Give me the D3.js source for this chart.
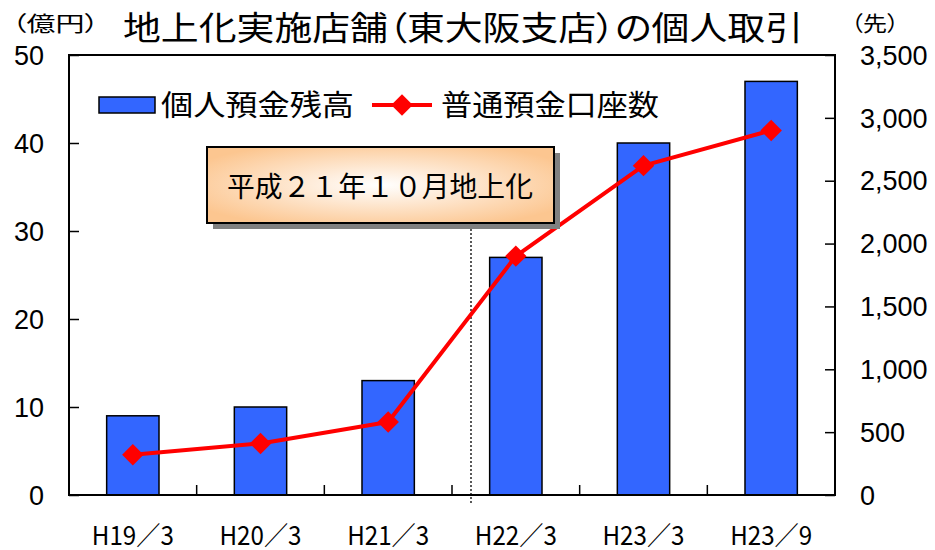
<!DOCTYPE html>
<html><head><meta charset="utf-8">
<script src="https://cdn.jsdelivr.net/npm/d3@7"></script>
<style>body{margin:0;background:#fff}svg{display:block}.palt{font-feature-settings:"palt"}</style>
</head><body><svg id="c" width="935" height="550"></svg>
<script>
const categories = ["H19／3","H20／3","H21／3","H22／3","H23／3","H23／9"];
const deposits = [9, 10, 13, 27, 40, 47];          // 個人預金残高 (億円)
const accounts = [320, 410, 580, 1900, 2620, 2900]; // 普通預金口座数 (先)
const leftTicks = [0,10,20,30,40,50];
const rightTicks = [0,500,1000,1500,2000,2500,3000,3500];
const titleText = "地上化実施店舗（東大阪支店）の個人取引";
const noteText = "平成２１年１０月地上化";

const svg = d3.select("#c");
const L=69, R=835, T=55, B=495;
const jp = "'Noto Sans CJK JP', sans-serif";
const num = "'Liberation Sans', Arial, sans-serif";

const x = d3.scaleBand().domain(categories).range([L,R]).paddingInner(0.59).paddingOuter(0.295);
const xb = d3.scaleLinear().domain([0,categories.length]).range([L,R]);
const yL = d3.scaleLinear().domain([0,50]).range([B,T]);
const yR = d3.scaleLinear().domain([0,3500]).range([B,T]);

// gradient
const defs = svg.append("defs");
const rg = defs.append("radialGradient").attr("id","peach").attr("cx","50%").attr("cy","50%").attr("r","60%");
rg.append("stop").attr("offset","0%").attr("stop-color","#ffffff");
rg.append("stop").attr("offset","100%").attr("stop-color","#fcc690");

// bars
svg.selectAll("rect.bar").data(deposits).join("rect").attr("class","bar")
  .attr("x",(d,i)=>x(categories[i])).attr("width",x.bandwidth())
  .attr("y",d=>yL(d)).attr("height",d=>B-yL(d))
  .attr("fill","#3366ff").attr("stroke","#000").attr("stroke-width",1.5);

// dotted line (H21/10)
svg.append("line").attr("x1",471).attr("x2",471).attr("y1",229).attr("y2",503)
  .attr("stroke","#000").attr("stroke-width",1.3).attr("stroke-dasharray","2,2");

// frame
svg.append("rect").attr("x",L).attr("y",T).attr("width",R-L).attr("height",B-T)
  .attr("fill","none").attr("stroke","#000").attr("stroke-width",2);

// left axis
const gl = svg.append("g").attr("transform",`translate(${L},0)`)
  .call(d3.axisRight(yL).tickValues(leftTicks).tickSize(10).tickFormat(""));
gl.select(".domain").remove();
gl.selectAll("line").attr("stroke-width",1.5);
svg.selectAll("text.lt").data(leftTicks).join("text").attr("class","lt")
  .attr("x",44).attr("y",d=>yL(d)).attr("dy","0.36em").attr("text-anchor","end")
  .attr("font-family",num).attr("font-size",27).text(d=>d);

// right axis
const gr = svg.append("g").attr("transform",`translate(${R},0)`)
  .call(d3.axisLeft(yR).tickValues(rightTicks).tickSize(10).tickFormat(""));
gr.select(".domain").remove();
gr.selectAll("line").attr("stroke-width",1.5);
svg.selectAll("text.rt").data(rightTicks).join("text").attr("class","rt")
  .attr("x",860).attr("y",d=>yR(d)).attr("dy","0.36em").attr("text-anchor","start")
  .attr("font-family",num).attr("font-size",27).text(d=>d3.format(",")(d));

// x ticks
svg.selectAll("line.xt").data(d3.range(1,categories.length)).join("line").attr("class","xt")
  .attr("x1",d=>xb(d)).attr("x2",d=>xb(d)).attr("y1",B).attr("y2",B-10)
  .attr("stroke","#000").attr("stroke-width",1.5);
svg.selectAll("text.xl").data(categories).join("text").attr("class","xl")
  .attr("x",d=>x(d)+x.bandwidth()/2).attr("y",545).attr("text-anchor","middle")
  .attr("font-family",jp).attr("font-size",26).attr("textLength",82).attr("lengthAdjust","spacingAndGlyphs")
  .text(d=>d);

// line (straight segments)
const cx = (i)=>x(categories[i])+x.bandwidth()/2;
const line = d3.line().x((d,i)=>cx(i)).y(d=>yR(d));
svg.append("path").datum(accounts).attr("d",line).attr("fill","none")
  .attr("stroke","#ff0000").attr("stroke-width",4).attr("stroke-linejoin","round");
const dia = d3.symbol().type(d3.symbolSquare).size(230);
svg.selectAll("path.mk").data(accounts).join("path").attr("class","mk")
  .attr("d",dia).attr("transform",(d,i)=>`translate(${cx(i)},${yR(d)}) rotate(45)`)
  .attr("fill","#ff0000");

// annotation box
svg.append("rect").attr("x",213).attr("y",153).attr("width",347).attr("height",76).attr("fill","#808080");
svg.append("rect").attr("x",207).attr("y",147).attr("width",347).attr("height",76)
  .attr("fill","url(#peach)").attr("stroke","#000").attr("stroke-width",2);
svg.append("text").attr("x",380).attr("y",197).attr("text-anchor","middle")
  .attr("font-family",jp).attr("font-size",28).attr("textLength",306).attr("lengthAdjust","spacingAndGlyphs")
  .text(noteText);

// legend
svg.append("rect").attr("x",99).attr("y",97).attr("width",56).attr("height",16)
  .attr("fill","#3366ff").attr("stroke","#000").attr("stroke-width",1.5);
svg.append("text").attr("x",161).attr("y",116).attr("font-family",jp).attr("font-size",29)
  .attr("textLength",193).attr("lengthAdjust","spacingAndGlyphs").text("個人預金残高");
svg.append("line").attr("x1",372).attr("x2",432).attr("y1",105).attr("y2",105)
  .attr("stroke","#ff0000").attr("stroke-width",4);
svg.append("path").attr("d",dia).attr("transform","translate(402,105) rotate(45)").attr("fill","#ff0000");
svg.append("text").attr("x",441).attr("y",116).attr("font-family",jp).attr("font-size",29)
  .attr("textLength",218).attr("lengthAdjust","spacingAndGlyphs").text("普通預金口座数");

// title and units
svg.append("text").attr("class","palt").attr("x",123).attr("y",40).attr("font-family",jp).attr("font-size",33).attr("font-weight",400)
  .attr("textLength",680).attr("lengthAdjust","spacingAndGlyphs").text(titleText);
svg.append("text").attr("class","palt").attr("x",12).attr("y",31).attr("font-family",jp).attr("font-size",21)
  .attr("textLength",87).attr("lengthAdjust","spacingAndGlyphs").text("（億円）");
svg.append("text").attr("class","palt").attr("x",851).attr("y",31).attr("font-family",jp).attr("font-size",21)
  .attr("textLength",48).attr("lengthAdjust","spacingAndGlyphs").text("（先）");
</script></body></html>
